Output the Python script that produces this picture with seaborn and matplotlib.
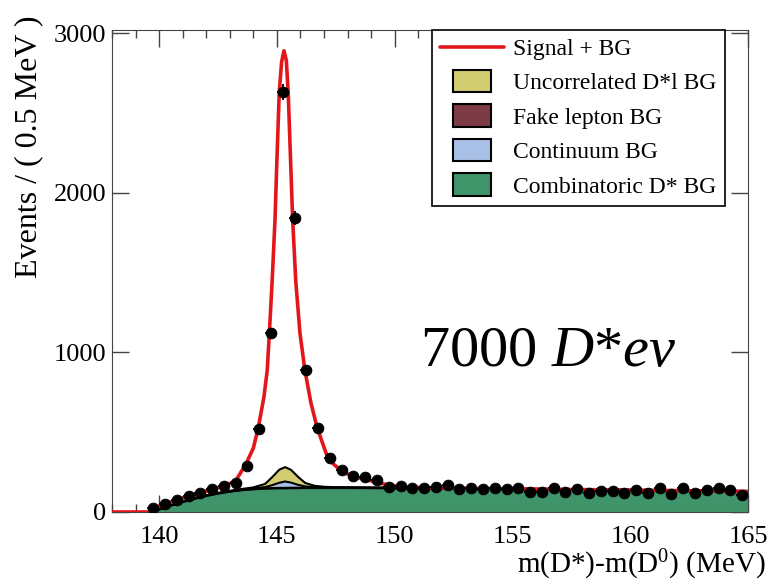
import numpy as np
import matplotlib
matplotlib.use("Agg")
import matplotlib.pyplot as plt
import seaborn as sns
from matplotlib.lines import Line2D
from matplotlib.patches import Patch, Rectangle
from matplotlib.legend_handler import HandlerPatch
from matplotlib.ticker import MultipleLocator

sns.set_style("ticks")
plt.rcParams.update(
    {
        "font.family": ["Liberation Serif", "DejaVu Serif"],
        "mathtext.fontset": "custom",
        "mathtext.rm": "Liberation Serif",
        "mathtext.it": "Liberation Serif:italic",
        "axes.edgecolor": "#444444",
        "text.color": "black",
        "axes.labelcolor": "black",
        "xtick.color": "#444444",
        "ytick.color": "#444444",
        "xtick.labelcolor": "black",
        "ytick.labelcolor": "black",
    }
)

# data points, 0.5 MeV bins from 139.5 to 165
bin_centers = np.arange(139.75, 165.0, 0.5)
counts = [
    25, 50, 75, 100, 120, 145, 165, 182, 290, 522,
    1120, 2630, 1840, 887, 528, 340, 264, 226, 220, 201,
    157, 163, 151, 151, 157, 170, 145, 151, 145, 151,
    145, 151, 126, 126, 151, 126, 145, 120, 130, 130,
    122, 136, 122, 153, 115, 149, 122, 136, 153, 136,
    107,
]

# fitted signal + background curve
fit_x = [
    138.0, 139.57, 139.75, 140.25, 140.75, 141.25, 141.75, 142.25, 142.75,
    143.25, 143.69, 144.0, 144.21, 144.45, 144.59, 144.68, 144.8, 144.92,
    145.0, 145.1, 145.2, 145.3, 145.4, 145.48, 145.57, 145.67, 145.8,
    145.98, 146.19, 146.45, 146.71, 147.18, 147.75, 148.25, 148.75, 149.25,
    149.75, 150.5, 152.0, 155.0, 160.0, 165.0,
]
fit_y = [
    0, 0, 22, 50, 76, 100, 121, 142, 163,
    195, 302, 400, 528, 720, 887, 1120, 1450, 1830,
    2200, 2630, 2820, 2890, 2830, 2630, 2250, 1830, 1450,
    1120, 887, 680, 528, 330, 255, 222, 205, 185,
    168, 155, 150, 145, 137, 129,
]

# background components (own contribution, stacked in the plot)
bg_x = [
    139.57, 140.0, 140.5, 141.0, 141.5, 142.0, 142.5, 143.0, 143.5, 144.0,
    144.5, 144.8, 145.1, 145.35, 145.6, 145.9, 146.2, 146.6, 147.0, 147.5,
    148.0, 149.0, 150.0, 152.5, 155.0, 157.5, 160.0, 162.5, 165.0,
]
bg_combinatoric = [
    0, 15, 40, 62, 82, 100, 115, 127, 136, 142,
    146, 147, 148, 148, 149, 149, 150, 150, 150, 150,
    150, 149, 148, 145, 142, 139, 135, 131, 127,
]
bg_fake_lepton = [
    0, 1, 1, 1, 2, 2, 2, 2, 2, 2,
    2, 3, 3, 3, 3, 3, 2, 2, 2, 2,
    2, 2, 2, 2, 2, 2, 2, 2, 2,
]
bg_continuum = [
    0, 1, 1, 1, 1, 2, 2, 2, 3, 4,
    8, 18, 32, 40, 32, 18, 8, 4, 3, 2,
    2, 2, 2, 2, 2, 2, 2, 2, 2,
]
bg_uncorrelated = [
    0, 0, 0, 0, 0, 0, 0, 1, 3, 6,
    20, 50, 82, 90, 80, 50, 22, 8, 3, 1,
    0, 0, 0, 0, 0, 0, 0, 0, 0,
]

colors = {
    "Signal + BG": "#e3161b",
    "Uncorrelated D*l BG": "#d3cd72",
    "Fake lepton BG": "#7d3b46",
    "Continuum BG": "#a9c0e6",
    "Combinatoric D* BG": "#409469",
}


class SmallPatch(HandlerPatch):
    # ROOT-like legend boxes: narrower than the line handle
    def create_artists(self, legend, orig_handle, xdescent, ydescent,
                       width, height, fontsize, trans):
        w = width * 0.6
        h = height * 1.35
        p = Rectangle((-xdescent + (width - w) / 2, -ydescent - (h - height) / 2),
                      w, h, facecolor=orig_handle.get_facecolor(),
                      edgecolor="black", linewidth=1.5, transform=trans)
        return [p]


def main():
    fig = plt.figure(figsize=(7.74, 5.87), dpi=100)
    ax = fig.add_axes([0.1447, 0.1278, 0.8217, 0.8211])

    # stacked background fills
    layers = [
        ("Combinatoric D* BG", bg_combinatoric),
        ("Fake lepton BG", bg_fake_lepton),
        ("Continuum BG", bg_continuum),
        ("Uncorrelated D*l BG", bg_uncorrelated),
    ]
    base = np.zeros(len(bg_x))
    for name, vals in layers:
        top = base + np.array(vals)
        ax.fill_between(bg_x, base, top, color=colors[name], lw=0, zorder=2)
        ax.plot(bg_x, top, color="black", lw=1.5, zorder=3)
        base = top

    sns.lineplot(x=fit_x, y=fit_y, color=colors["Signal + BG"], lw=2.6,
                 estimator=None, ax=ax, zorder=4)

    ax.errorbar(bin_centers, counts, xerr=0.25, yerr=np.sqrt(counts),
                fmt="none", ecolor="black", elinewidth=1.3, zorder=5)
    sns.scatterplot(x=bin_centers, y=counts, color="black", s=60,
                    edgecolor="black", ax=ax, zorder=6)

    ax.set_xlim(138.0, 165.0)
    ax.set_ylim(0, 3020)
    ax.xaxis.set_major_locator(MultipleLocator(5))
    ax.xaxis.set_minor_locator(MultipleLocator(1))
    ax.yaxis.set_major_locator(MultipleLocator(1000))
    ax.tick_params(which="both", direction="in", top=True, right=True,
                   labelsize=19)
    ax.tick_params(which="major", length=12, width=1)
    ax.tick_params(which="minor", length=6, width=1)
    ax.tick_params(axis="x", pad=10)
    ax.tick_params(axis="y", pad=4)

    ax.set_xlabel("m(D*)-m(D$^\\mathrm{0}$) (MeV)", fontsize=21, loc="right")
    ax.xaxis.set_label_coords(1.028, -0.075)
    ax.set_ylabel("Events / ( 0.5 MeV )", fontsize=23, loc="top")
    ax.yaxis.set_label_coords(-0.108, 1.03)

    ax.text(156.5, 1000, "7000 $D$*$ev$", fontsize=42, ha="center",
            va="center", zorder=7)

    handles = [Line2D([], [], color=colors["Signal + BG"], lw=2.6)]
    labels = ["Signal + BG"]
    for name in ["Uncorrelated D*l BG", "Fake lepton BG", "Continuum BG",
                 "Combinatoric D* BG"]:
        handles.append(Patch(facecolor=colors[name], edgecolor="black"))
        labels.append(name)
    leg = ax.legend(
        handles, labels, loc="upper left",
        bbox_to_anchor=(0.503, 1.0), borderaxespad=0, fontsize=17,
        frameon=True, fancybox=False, edgecolor="black", framealpha=1,
        handlelength=2.7, handletextpad=0.4, labelspacing=0.55,
        borderpad=0.35, handler_map={Patch: SmallPatch()},
    )
    leg.get_frame().set_linewidth(1.2)
    leg.set_zorder(10)

    fig.savefig("out.png", dpi=100)


if __name__ == "__main__":
    main()
